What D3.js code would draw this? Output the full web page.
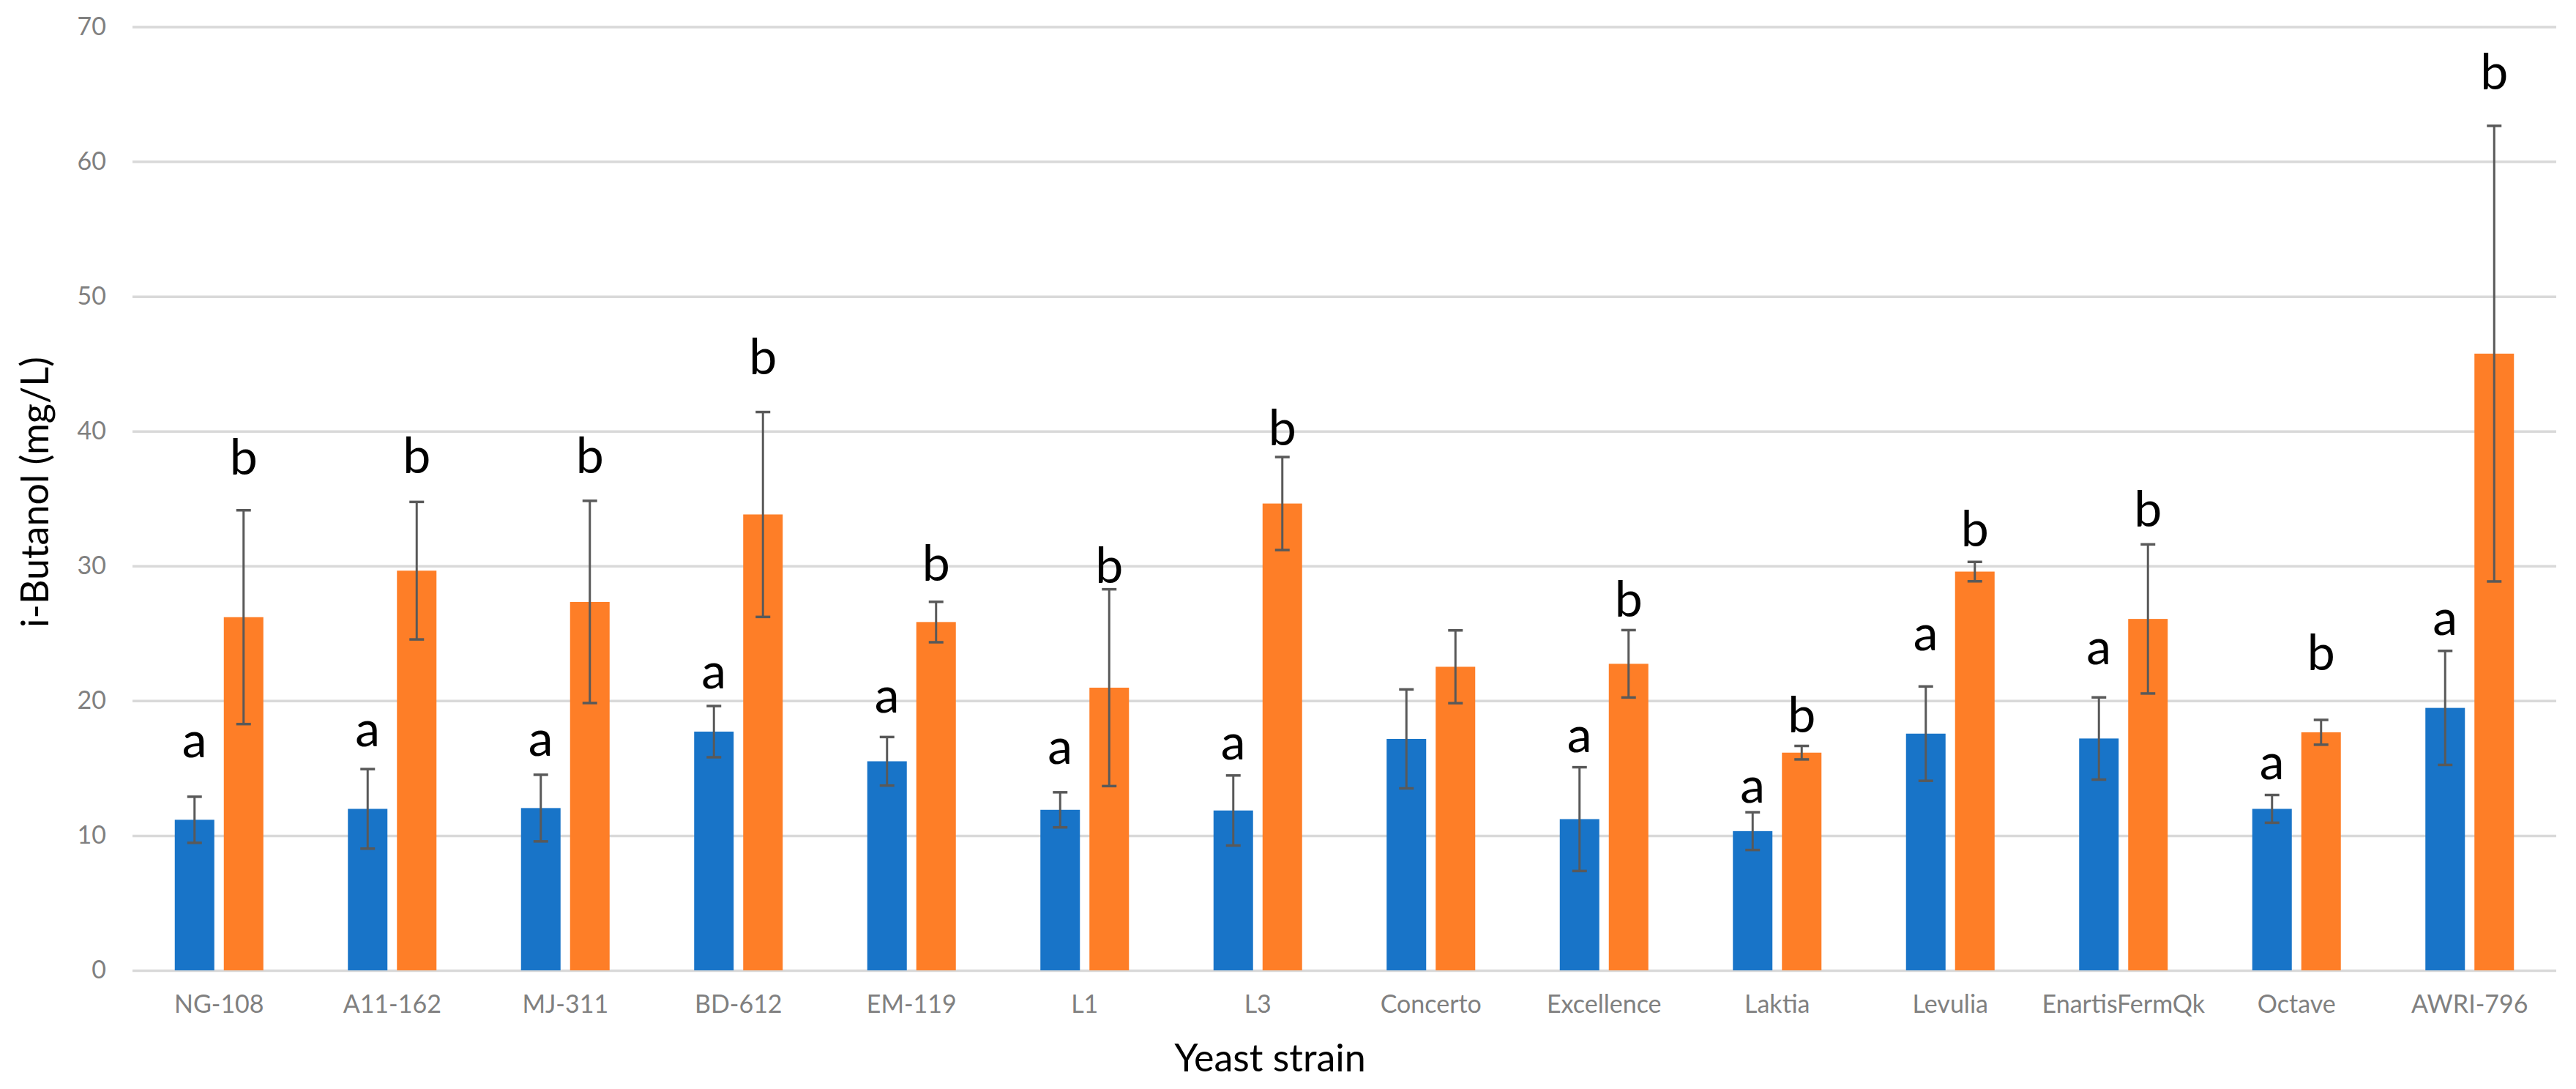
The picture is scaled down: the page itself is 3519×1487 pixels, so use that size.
<!DOCTYPE html>
<html>
<head>
<meta charset="utf-8">
<script src="https://cdn.jsdelivr.net/npm/d3@7"></script>
<style>
  body { margin: 0; background: #fff; }
  text { font-family: Lato, "Open Sans", sans-serif; }
</style>
</head>
<body>
<div id="chart"></div>
<script>
// yeast strains on the x axis
var strains = ['NG-108', 'A11-162', 'MJ-311', 'BD-612', 'EM-119', 'L1', 'L3',
    'Concerto', 'Excellence', 'Laktia', 'Levulia', 'EnartisFermQk', 'Octave', 'AWRI-796'];

// blue series (mean and error)
var blueVals = [11.17, 11.98, 12.04, 17.71, 15.51, 11.91, 11.86, 17.17, 11.22, 10.33, 17.56, 17.2, 11.98, 19.47];
var blueErr  = [1.71, 2.95, 2.47, 1.9, 1.8, 1.3, 2.6, 3.67, 3.85, 1.4, 3.5, 3.05, 1.03, 4.23];

// orange series (mean and error)
var orangeVals = [26.2, 29.65, 27.33, 33.82, 25.84, 20.97, 34.63, 22.52, 22.74, 16.15, 29.58, 26.07, 17.66, 45.75];
var orangeErr  = [7.93, 5.1, 7.5, 7.6, 1.5, 7.3, 3.45, 2.7, 2.5, 0.5, 0.72, 5.53, 0.92, 16.9];

// significance letters and the level (mg/L) where each one sits
var blueLetters   = ['a', 'a', 'a', 'a', 'a', 'a', 'a', '', 'a', 'a', 'a', 'a', 'a', 'a'];
var blueLetterAt  = [15.8, 16.6, 15.9, 20.9, 19.1, 15.3, 15.65, 0, 16.2, 12.45, 23.75, 22.7, 14.2, 24.9];
var orangeLetters  = ['b', 'b', 'b', 'b', 'b', 'b', 'b', '', 'b', 'b', 'b', 'b', 'b', 'b'];
var orangeLetterAt = [36.8, 36.9, 36.9, 44.2, 28.9, 28.75, 38.97, 0, 26.25, 17.66, 31.47, 32.9, 22.3, 65.35];

var yTicks = [0, 10, 20, 30, 40, 50, 60, 70];
var seriesKeys = ['blue', 'orange'];
var colors = { blue: '#1874c8', orange: '#fe7e27' };

var svgWidth = 3519;
var svgHeight = 1487;

var margin = { top: 36.5, bottom: 162, left: 181, right: 27 };
var width = svgWidth - margin.left - margin.right;
var height = svgHeight - margin.top - margin.bottom;

var svg = d3.select('#chart')
    .append('svg')
    .attr('width', svgWidth)
    .attr('height', svgHeight);

var chartGroup = svg.append('g')
    .attr('transform', `translate(${margin.left}, ${margin.top})`);

var rows = strains.map(function(s, i) {
    return {
        strain: s,
        blue: { v: blueVals[i], e: blueErr[i], t: blueLetters[i], at: blueLetterAt[i] },
        orange: { v: orangeVals[i], e: orangeErr[i], t: orangeLetters[i], at: orangeLetterAt[i] }
    };
});

var x0 = d3.scaleBand()
    .domain(strains)
    .range([0, width])
    .paddingInner(0)
    .paddingOuter(0);

var x1 = d3.scaleBand()
    .domain(seriesKeys)
    .range([0, x0.bandwidth()])
    .paddingInner(0.194)
    .paddingOuter(0.862);

var yScale = d3.scaleLinear()
    .domain([0, 70])
    .range([height, 0]);

// gridlines + y labels
var leftAxis = d3.axisLeft(yScale)
    .tickValues(yTicks)
    .tickSize(-width)
    .tickPadding(36);

var yAxisG = chartGroup.append('g').call(leftAxis);
yAxisG.select('.domain').remove();
yAxisG.selectAll('line').attr('stroke', '#d9d9d9').attr('stroke-width', 3.5);
yAxisG.selectAll('text')
    .attr('fill', '#808080')
    .style('font-size', '34px');

// x labels
var bottomAxis = d3.axisBottom(x0).tickSize(0).tickPadding(34);
var xAxisG = chartGroup.append('g')
    .attr('transform', `translate(0, ${height})`)
    .call(bottomAxis);
xAxisG.select('.domain').remove();
xAxisG.selectAll('text')
    .attr('fill', '#808080')
    .style('font-size', '34px');

// bars
var groups = chartGroup.selectAll('.strain')
    .data(rows)
    .enter()
    .append('g')
    .attr('class', 'strain')
    .attr('transform', d => `translate(${x0(d.strain)}, 0)`);

var items = groups.selectAll('.item')
    .data(d => seriesKeys.map(k => Object.assign({ key: k }, d[k])))
    .enter()
    .append('g')
    .attr('class', 'item');

items.append('rect')
    .attr('x', d => x1(d.key))
    .attr('y', d => yScale(d.v))
    .attr('width', x1.bandwidth())
    .attr('height', d => yScale(0) - yScale(d.v))
    .attr('fill', d => colors[d.key]);

// error bars
var cap = 10;
items.append('line')
    .attr('x1', d => x1(d.key) + x1.bandwidth() / 2)
    .attr('x2', d => x1(d.key) + x1.bandwidth() / 2)
    .attr('y1', d => yScale(d.v + d.e))
    .attr('y2', d => yScale(d.v - d.e))
    .attr('stroke', '#595959')
    .attr('stroke-width', 3);

items.append('line')
    .attr('x1', d => x1(d.key) + x1.bandwidth() / 2 - cap)
    .attr('x2', d => x1(d.key) + x1.bandwidth() / 2 + cap)
    .attr('y1', d => yScale(d.v + d.e))
    .attr('y2', d => yScale(d.v + d.e))
    .attr('stroke', '#595959')
    .attr('stroke-width', 3.5);

items.append('line')
    .attr('x1', d => x1(d.key) + x1.bandwidth() / 2 - cap)
    .attr('x2', d => x1(d.key) + x1.bandwidth() / 2 + cap)
    .attr('y1', d => yScale(d.v - d.e))
    .attr('y2', d => yScale(d.v - d.e))
    .attr('stroke', '#595959')
    .attr('stroke-width', 3.5);

// letters
items.filter(d => d.t !== '')
    .append('text')
    .attr('x', d => x1(d.key) + x1.bandwidth() / 2)
    .attr('y', d => yScale(d.at))
    .attr('text-anchor', 'middle')
    .attr('fill', '#000')
    .style('font-size', '68px')
    .text(d => d.t);

// axis titles
svg.append('text')
    .attr('transform', 'translate(66, 672) rotate(-90)')
    .attr('text-anchor', 'middle')
    .attr('fill', '#000')
    .style('font-size', '52px')
    .text('i-Butanol (mg/L)');

svg.append('text')
    .attr('x', 1735)
    .attr('y', 1463)
    .attr('text-anchor', 'middle')
    .attr('fill', '#000')
    .style('font-size', '52px')
    .text('Yeast strain');
</script>
</body>
</html>
